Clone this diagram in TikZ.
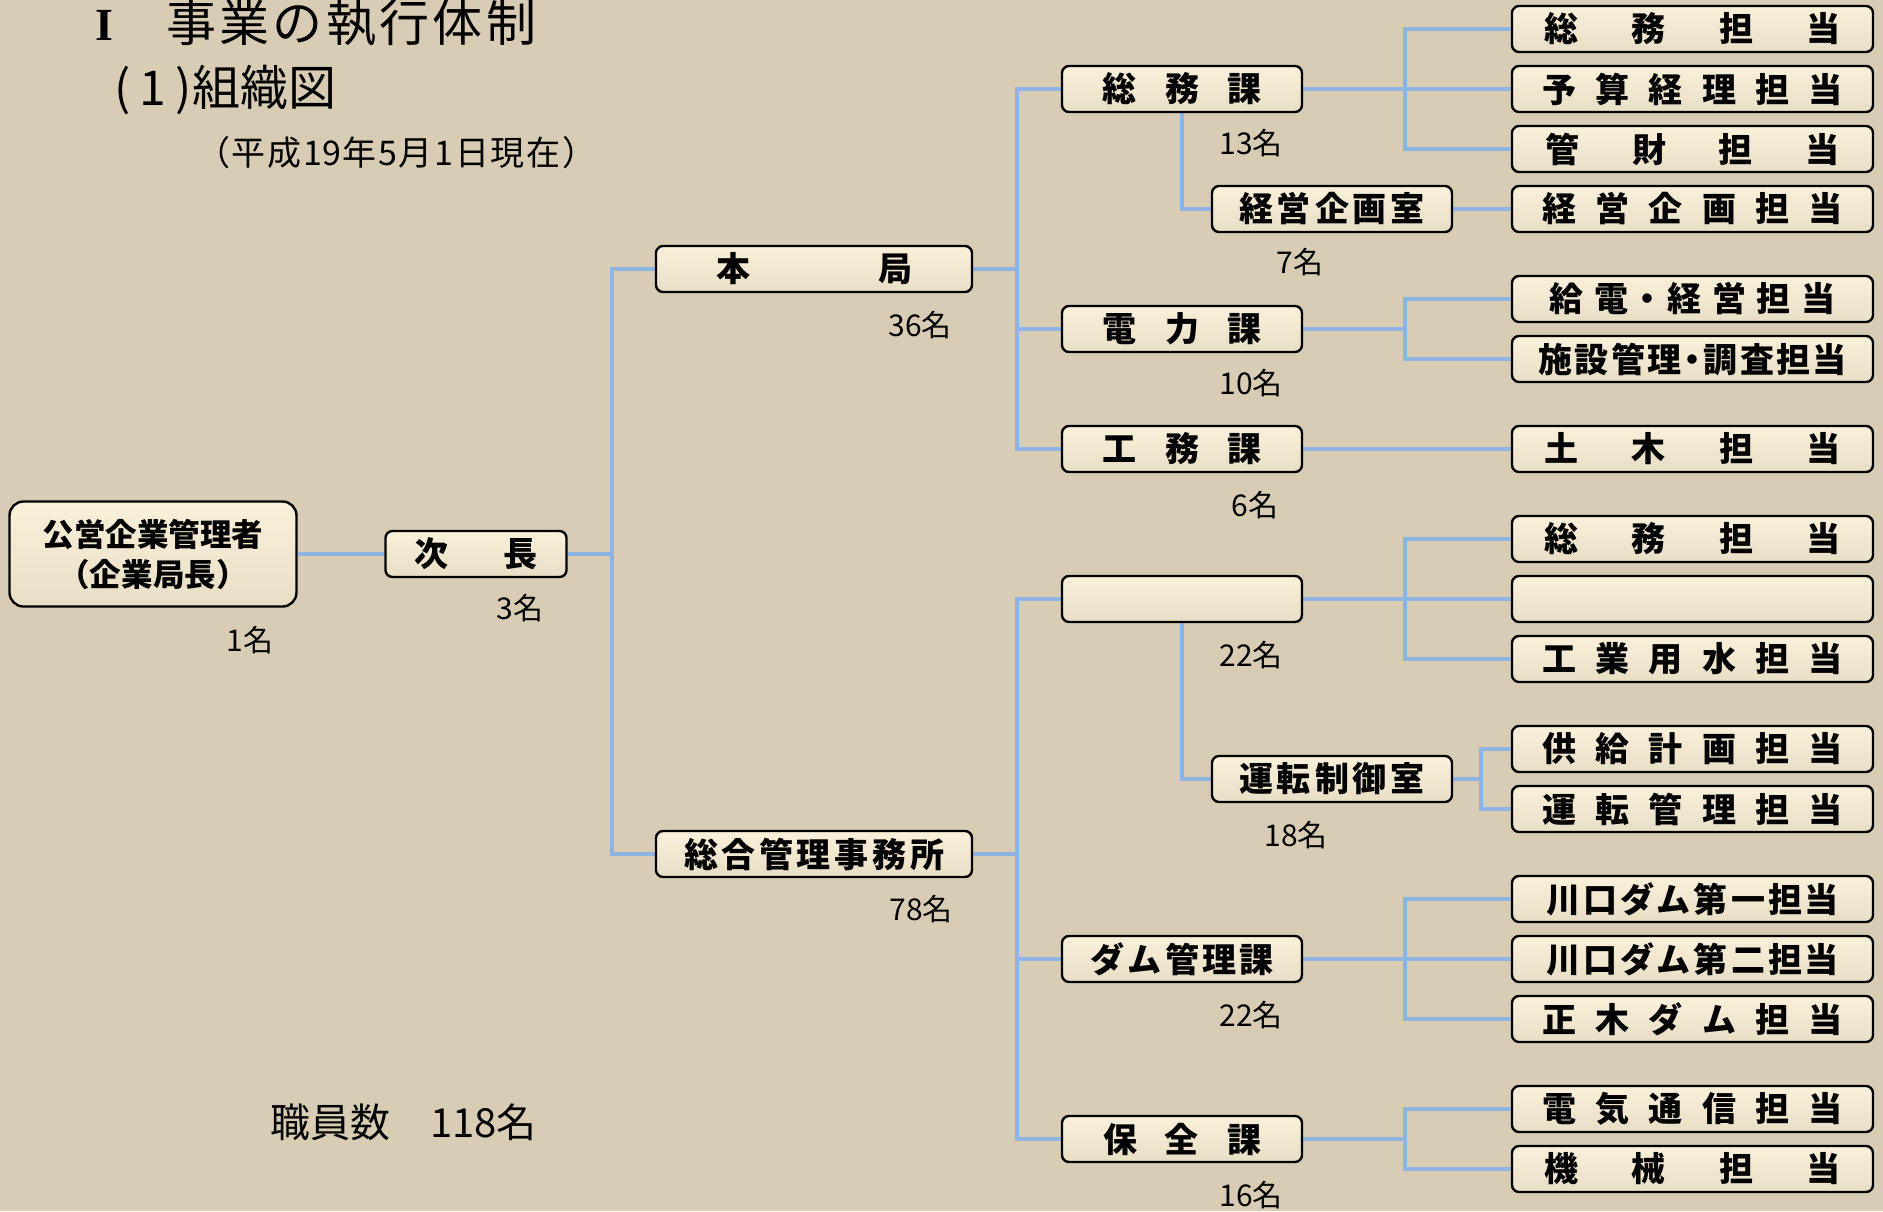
\documentclass[tikz,border=0pt]{standalone}
\usepackage{fontspec}
\newfontfamily\jp{Noto Sans CJK JP}
\newfontfamily\serifI{Liberation Serif}
\usetikzlibrary{backgrounds}
\definecolor{bg}{RGB}{216,204,180}
\definecolor{boxtop}{RGB}{251,241,218}
\definecolor{boxbot}{RGB}{232,222,198}
\definecolor{linkblue}{RGB}{141,180,226}
\newcommand{\jspread}[2]{\hbox to #1bp{#2}}
\tikzset{
  box/.style={draw=black, line width=2.4bp, rounded corners=7bp, top color=boxtop, bottom color=boxbot,
    inner sep=0pt, minimum height=46bp, font={\jp\bfseries\fontsize{34bp}{40bp}\selectfont}},
  rbox/.style={box, minimum width=361bp},
  mbox/.style={box, minimum width=240bp},
  link/.style={draw=linkblue, line width=4bp},
  cnt/.style={inner sep=0pt, font={\jp\fontsize{30bp}{34bp}\selectfont}},
}
\begin{document}
\begin{tikzpicture}[x=1bp,y=-1bp]
\useasboundingbox (0,0) rectangle (1883,1211);
% titles
\node[inner sep=0pt, anchor=base, font={\serifI\bfseries\fontsize{46bp}{50bp}\selectfont}] (t0) at (104,40) {I};
\node[inner sep=0pt, anchor=base west, font={\jp\fontsize{50bp}{54bp}\selectfont}] (t1) at (166,41) {\jspread{370}{事\hfill 業\hfill の\hfill 執\hfill 行\hfill 体\hfill 制}};
\node[inner sep=0pt, anchor=base west, font={\jp\fontsize{48bp}{52bp}\selectfont}] (t2) at (114,105) {\jspread{78}{(\hfill 1\hfill )}組織図};
\node[inner sep=0pt, anchor=base west, font={\jp\fontsize{34bp}{38bp}\selectfont}] (t3) at (196,165) {\jspread{400}{（\hfill 平\hfill 成\hfill 19\hfill 年\hfill 5\hfill 月\hfill 1\hfill 日\hfill 現\hfill 在\hfill ）}};
\node[inner sep=0pt, anchor=west, font={\jp\fontsize{40bp}{44bp}\selectfont}] (total) at (270,1122) {職員数　118名};

% left part
\node[box, rounded corners=14bp, minimum width=287bp, minimum height=105bp, align=center,
  font={\jp\bfseries\fontsize{31.5bp}{40bp}\selectfont}] (kanri) at (153,554) {公営企業管理者\\（企業局長）};
\node[box, minimum width=181bp] (jicho) at (476,554) {\jspread{123}{次\hfill 長}};
\node[box, minimum width=316bp] (honkyoku) at (814,269) {\jspread{196}{本\hfill 局}};
\node[box, minimum width=316bp] (sogo) at (814,854) {\jspread{260}{総\hfill 合\hfill 管\hfill 理\hfill 事\hfill 務\hfill 所}};

% middle column
\node[mbox] (somuka) at (1182,89) {\jspread{159}{総\hfill 務\hfill 課}};
\node[mbox] (keiei) at (1332,209) {\jspread{186}{経\hfill 営\hfill 企\hfill 画\hfill 室}};
\node[mbox] (denryoku) at (1182,329) {\jspread{159}{電\hfill 力\hfill 課}};
\node[mbox] (komu) at (1182,449) {\jspread{159}{工\hfill 務\hfill 課}};
\node[mbox] (blankm) at (1182,599) {};
\node[mbox] (unten) at (1332,779) {\jspread{186}{運\hfill 転\hfill 制\hfill 御\hfill 室}};
\node[mbox] (dam) at (1182,959) {\jspread{183}{ダ\hfill ム\hfill 管\hfill 理\hfill 課}};
\node[mbox] (hozen) at (1182,1139) {\jspread{158}{保\hfill 全\hfill 課}};

% right column
\node[rbox] (r1) at (1692.5,29) {\jspread{296}{総\hfill 務\hfill 担\hfill 当}};
\node[rbox] (r2) at (1692.5,89) {\jspread{300}{予\hfill 算\hfill 経\hfill 理\hfill 担\hfill 当}};
\node[rbox] (r3) at (1692.5,149) {\jspread{294}{管\hfill 財\hfill 担\hfill 当}};
\node[rbox] (r4) at (1692.5,209) {\jspread{300}{経\hfill 営\hfill 企\hfill 画\hfill 担\hfill 当}};
\node[rbox] (r5) at (1692.5,299) {\jspread{286}{給\hfill 電\hfill\kern-8bp ・\kern-8bp\hfill 経\hfill 営\hfill 担\hfill 当}};
\node[rbox] (r6) at (1692.5,359) {\jspread{308}{施\hfill 設\hfill 管\hfill 理\hfill\kern-8bp ・\kern-8bp\hfill 調\hfill 査\hfill 担\hfill 当}};
\node[rbox] (r7) at (1692.5,449) {\jspread{296}{土\hfill 木\hfill 担\hfill 当}};
\node[rbox] (r8) at (1692.5,539) {\jspread{296}{総\hfill 務\hfill 担\hfill 当}};
\node[rbox] (r9) at (1692.5,599) {};
\node[rbox] (r10) at (1692.5,659) {\jspread{300}{工\hfill 業\hfill 用\hfill 水\hfill 担\hfill 当}};
\node[rbox] (r11) at (1692.5,749) {\jspread{300}{供\hfill 給\hfill 計\hfill 画\hfill 担\hfill 当}};
\node[rbox] (r12) at (1692.5,809) {\jspread{300}{運\hfill 転\hfill 管\hfill 理\hfill 担\hfill 当}};
\node[rbox] (r13) at (1692.5,899) {\jspread{293}{川\hfill 口\hfill ダ\hfill ム\hfill 第\hfill 一\hfill 担\hfill 当}};
\node[rbox] (r14) at (1692.5,959) {\jspread{293}{川\hfill 口\hfill ダ\hfill ム\hfill 第\hfill 二\hfill 担\hfill 当}};
\node[rbox] (r15) at (1692.5,1019) {\jspread{300}{正\hfill 木\hfill ダ\hfill ム\hfill 担\hfill 当}};
\node[rbox] (r16) at (1692.5,1109) {\jspread{300}{電\hfill 気\hfill 通\hfill 信\hfill 担\hfill 当}};
\node[rbox] (r17) at (1692.5,1169) {\jspread{296}{機\hfill 械\hfill 担\hfill 当}};

% counts
\node[cnt] (c1) at (250,640) {1名};
\node[cnt] (c2) at (520,608) {3名};
\node[cnt] (c3) at (920,325) {36名};
\node[cnt] (c4) at (921,909) {78名};
\node[cnt] (c5) at (1251,143) {13名};
\node[cnt] (c6) at (1300,262) {7名};
\node[cnt] (c7) at (1251,383) {10名};
\node[cnt] (c8) at (1255,505) {6名};
\node[cnt] (c9) at (1251,655) {22名};
\node[cnt] (c10) at (1296,835) {18名};
\node[cnt] (c11) at (1251,1015) {22名};
\node[cnt] (c12) at (1251,1195) {16名};

\coordinate (v0) at (612,0);
\coordinate (v1) at (1017,0);
\coordinate (hx) at (1405,0);
\coordinate (hx2) at (1481,0);

\begin{scope}[on background layer]
\fill[bg] (0,0) rectangle (1883,1211);
\draw[link] (kanri.east) -- (jicho.west);
\draw[link] (jicho.east) -- (v0 |- jicho.east);
\draw[link] (honkyoku.west) -| (v0 |- sogo.west) -- (sogo.west);
\draw[link] (honkyoku.east) -- (v1 |- honkyoku.east);
\draw[link] (somuka.west) -| (v1 |- komu.west) -- (komu.west);
\draw[link] (v1 |- denryoku.west) -- (denryoku.west);
\draw[link] (sogo.east) -- (v1 |- sogo.east);
\draw[link] (blankm.west) -| (v1 |- hozen.west) -- (hozen.west);
\draw[link] (v1 |- dam.west) -- (dam.west);
\draw[link] (somuka.east) -- (r2.west);
\draw[link] (r1.west) -| (hx |- r3.west) -- (r3.west);
\draw[link] (somuka.south) |- (keiei.west);
\draw[link] (keiei.east) -- (r4.west);
\draw[link] (denryoku.east) -- (hx |- denryoku.east);
\draw[link] (r5.west) -| (hx |- r6.west) -- (r6.west);
\draw[link] (komu.east) -- (r7.west);
\draw[link] (blankm.east) -- (r9.west);
\draw[link] (r8.west) -| (hx |- r10.west) -- (r10.west);
\draw[link] (blankm.south) |- (unten.west);
\draw[link] (unten.east) -- (hx2 |- unten.east);
\draw[link] (r11.west) -| (hx2 |- r12.west) -- (r12.west);
\draw[link] (dam.east) -- (r14.west);
\draw[link] (r13.west) -| (hx |- r15.west) -- (r15.west);
\draw[link] (hozen.east) -- (hx |- hozen.east);
\draw[link] (r16.west) -| (hx |- r17.west) -- (r17.west);
\end{scope}
\end{tikzpicture}
\end{document}
